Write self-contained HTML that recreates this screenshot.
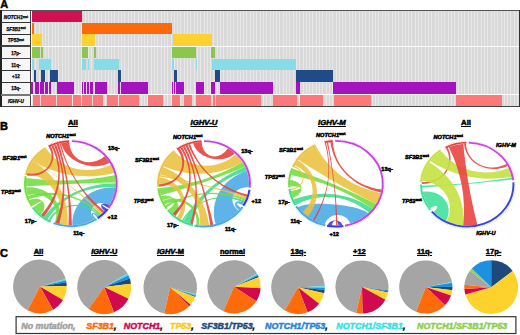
<!DOCTYPE html><html><head><meta charset="utf-8"><style>
html,body{margin:0;padding:0;background:#fff;width:520px;height:335px;overflow:hidden;position:relative}
body{font-family:"Liberation Sans",sans-serif}
.t{position:absolute;white-space:nowrap;line-height:1}
.s{-webkit-text-stroke:0.5px currentColor}
sup{font-size:62%;vertical-align:0;position:relative;top:-0.55em}
</style></head><body>
<div style="position:absolute;left:0.3px;top:-1.6px;font:bold 11px 'Liberation Sans', sans-serif;color:#000;-webkit-text-stroke:0.4px #000">A</div>
<div style="position:absolute;left:31.5px;top:11px;width:487.1px;height:95px;background:#d9d9d9;background-image:repeating-linear-gradient(90deg, rgba(255,255,255,0.4) 0px, rgba(255,255,255,0.4) 1px, transparent 1px, transparent 3.3px)"></div>
<div style="position:absolute;left:31.5px;top:11.1px;width:50.3px;height:11.299999999999999px;background:#d20f4f"></div>
<div style="position:absolute;left:31.5px;top:22.8px;width:2.1000000000000014px;height:11.2px;background:#fd6a0b"></div>
<div style="position:absolute;left:81.8px;top:22.8px;width:90.7px;height:11.2px;background:#fd6a0b"></div>
<div style="position:absolute;left:31.5px;top:34.2px;width:10.5px;height:11.399999999999999px;background:#fdd230"></div>
<div style="position:absolute;left:81.8px;top:34.2px;width:13.700000000000003px;height:11.399999999999999px;background:#fdd230"></div>
<div style="position:absolute;left:172.5px;top:34.2px;width:39.30000000000001px;height:11.399999999999999px;background:#fdd230"></div>
<div style="position:absolute;left:31.5px;top:46.6px;width:8.5px;height:11.699999999999996px;background:#8ac74a"></div>
<div style="position:absolute;left:41.2px;top:46.6px;width:1.5999999999999943px;height:11.699999999999996px;background:#8ac74a"></div>
<div style="position:absolute;left:82px;top:46.6px;width:5.799999999999997px;height:11.699999999999996px;background:#8ac74a"></div>
<div style="position:absolute;left:93.8px;top:46.6px;width:1.7999999999999972px;height:11.699999999999996px;background:#8ac74a"></div>
<div style="position:absolute;left:172px;top:46.6px;width:24.19999999999999px;height:11.699999999999996px;background:#8ac74a"></div>
<div style="position:absolute;left:211px;top:46.6px;width:4.300000000000011px;height:11.699999999999996px;background:#8ac74a"></div>
<div style="position:absolute;left:31.5px;top:58.5px;width:2.299999999999997px;height:11.5px;background:#86dde8"></div>
<div style="position:absolute;left:39.3px;top:58.5px;width:11.300000000000004px;height:11.5px;background:#86dde8"></div>
<div style="position:absolute;left:82px;top:58.5px;width:3.5px;height:11.5px;background:#86dde8"></div>
<div style="position:absolute;left:87.8px;top:58.5px;width:1.6000000000000085px;height:11.5px;background:#86dde8"></div>
<div style="position:absolute;left:93.8px;top:58.5px;width:24.799999999999997px;height:11.5px;background:#86dde8"></div>
<div style="position:absolute;left:171.5px;top:58.5px;width:2.0px;height:11.5px;background:#86dde8"></div>
<div style="position:absolute;left:195.8px;top:58.5px;width:1.6999999999999886px;height:11.5px;background:#86dde8"></div>
<div style="position:absolute;left:212px;top:58.5px;width:83.80000000000001px;height:11.5px;background:#86dde8"></div>
<div style="position:absolute;left:34.3px;top:70.2px;width:1.6000000000000014px;height:11.799999999999997px;background:#1f4b89"></div>
<div style="position:absolute;left:41.2px;top:70.2px;width:4.299999999999997px;height:11.799999999999997px;background:#1f4b89"></div>
<div style="position:absolute;left:50.2px;top:70.2px;width:7.399999999999999px;height:11.799999999999997px;background:#1f4b89"></div>
<div style="position:absolute;left:118.2px;top:70.2px;width:2.3999999999999915px;height:11.799999999999997px;background:#1f4b89"></div>
<div style="position:absolute;left:173.8px;top:70.2px;width:2.8999999999999773px;height:11.799999999999997px;background:#1f4b89"></div>
<div style="position:absolute;left:214.5px;top:70.2px;width:5.5px;height:11.799999999999997px;background:#1f4b89"></div>
<div style="position:absolute;left:295.8px;top:70.2px;width:37.5px;height:11.799999999999997px;background:#1f4b89"></div>
<div style="position:absolute;left:31.0px;top:82.2px;width:2.0px;height:11.599999999999994px;background:#a513be"></div>
<div style="position:absolute;left:35.4px;top:82.2px;width:3.8999999999999986px;height:11.599999999999994px;background:#a513be"></div>
<div style="position:absolute;left:39.9px;top:82.2px;width:4.200000000000003px;height:11.599999999999994px;background:#a513be"></div>
<div style="position:absolute;left:44.7px;top:82.2px;width:3.299999999999997px;height:11.599999999999994px;background:#a513be"></div>
<div style="position:absolute;left:48.6px;top:82.2px;width:2.6000000000000014px;height:11.599999999999994px;background:#a513be"></div>
<div style="position:absolute;left:57.1px;top:82.2px;width:16.499999999999993px;height:11.599999999999994px;background:#a513be"></div>
<div style="position:absolute;left:81.6px;top:82.2px;width:1.5px;height:11.599999999999994px;background:#a513be"></div>
<div style="position:absolute;left:83.7px;top:82.2px;width:2.5px;height:11.599999999999994px;background:#a513be"></div>
<div style="position:absolute;left:86.8px;top:82.2px;width:1.9000000000000057px;height:11.599999999999994px;background:#a513be"></div>
<div style="position:absolute;left:89.5px;top:82.2px;width:3.799999999999997px;height:11.599999999999994px;background:#a513be"></div>
<div style="position:absolute;left:95.3px;top:82.2px;width:12.200000000000003px;height:11.599999999999994px;background:#a513be"></div>
<div style="position:absolute;left:118.4px;top:82.2px;width:1.2999999999999972px;height:11.599999999999994px;background:#a513be"></div>
<div style="position:absolute;left:120.6px;top:82.2px;width:27.900000000000006px;height:11.599999999999994px;background:#a513be"></div>
<div style="position:absolute;left:172px;top:82.2px;width:1.1999999999999886px;height:11.599999999999994px;background:#a513be"></div>
<div style="position:absolute;left:173.8px;top:82.2px;width:1.3999999999999773px;height:11.599999999999994px;background:#a513be"></div>
<div style="position:absolute;left:176.2px;top:82.2px;width:8.300000000000011px;height:11.599999999999994px;background:#a513be"></div>
<div style="position:absolute;left:195.8px;top:82.2px;width:8.0px;height:11.599999999999994px;background:#a513be"></div>
<div style="position:absolute;left:211.3px;top:82.2px;width:3.6999999999999886px;height:11.599999999999994px;background:#a513be"></div>
<div style="position:absolute;left:220px;top:82.2px;width:53px;height:11.599999999999994px;background:#a513be"></div>
<div style="position:absolute;left:295.8px;top:82.2px;width:4.199999999999989px;height:11.599999999999994px;background:#a513be"></div>
<div style="position:absolute;left:333.3px;top:82.2px;width:122.5px;height:11.599999999999994px;background:#a513be"></div>
<div style="position:absolute;left:32.7px;top:95.0px;width:7.599999999999994px;height:10.900000000000006px;background:#fd7878"></div>
<div style="position:absolute;left:40.9px;top:95.0px;width:15.100000000000001px;height:10.900000000000006px;background:#fd7878"></div>
<div style="position:absolute;left:56.6px;top:95.0px;width:15.600000000000001px;height:10.900000000000006px;background:#fd7878"></div>
<div style="position:absolute;left:72.8px;top:95.0px;width:7.799999999999997px;height:10.900000000000006px;background:#fd7878"></div>
<div style="position:absolute;left:81.9px;top:95.0px;width:10.399999999999991px;height:10.900000000000006px;background:#fd7878"></div>
<div style="position:absolute;left:92.8px;top:95.0px;width:10.299999999999997px;height:10.900000000000006px;background:#fd7878"></div>
<div style="position:absolute;left:106.9px;top:95.0px;width:11.0px;height:10.900000000000006px;background:#fd7878"></div>
<div style="position:absolute;left:118.7px;top:95.0px;width:20.700000000000003px;height:10.900000000000006px;background:#fd7878"></div>
<div style="position:absolute;left:147.8px;top:95.0px;width:15.199999999999989px;height:10.900000000000006px;background:#fd7878"></div>
<div style="position:absolute;left:172px;top:95.0px;width:8px;height:10.900000000000006px;background:#fd7878"></div>
<div style="position:absolute;left:183.8px;top:95.0px;width:8.699999999999989px;height:10.900000000000006px;background:#fd7878"></div>
<div style="position:absolute;left:195.8px;top:95.0px;width:15.5px;height:10.900000000000006px;background:#fd7878"></div>
<div style="position:absolute;left:212.5px;top:95.0px;width:2.5px;height:10.900000000000006px;background:#fd7878"></div>
<div style="position:absolute;left:216.3px;top:95.0px;width:45.0px;height:10.900000000000006px;background:#fd7878"></div>
<div style="position:absolute;left:272.5px;top:95.0px;width:24.30000000000001px;height:10.900000000000006px;background:#fd7878"></div>
<div style="position:absolute;left:300px;top:95.0px;width:22.5px;height:10.900000000000006px;background:#fd7878"></div>
<div style="position:absolute;left:333.7px;top:95.0px;width:37.60000000000002px;height:10.900000000000006px;background:#fd7878"></div>
<div style="position:absolute;left:455.5px;top:95.0px;width:46.69999999999999px;height:10.900000000000006px;background:#fd7878"></div>
<div style="position:absolute;left:31.5px;top:45.6px;width:487.1px;height:1.1px;background:#fff"></div>
<div style="position:absolute;left:31.5px;top:93.9px;width:487.1px;height:1.1px;background:#fff"></div>
<div style="position:absolute;left:0.5px;top:10.2px;width:518.1px;height:1px;background:#555"></div>
<div style="position:absolute;left:0.5px;top:105.9px;width:518.1px;height:1.1px;background:#444"></div>
<div style="position:absolute;left:518.6px;top:10.2px;width:1.3px;height:96.8px;background:#333"></div>
<div style="position:absolute;left:0.4px;top:10.2px;width:1.2px;height:96.8px;background:#222"></div>
<div style="position:absolute;left:30.2px;top:10.2px;width:1.2px;height:96.8px;background:#444"></div>
<div style="position:absolute;left:1.6px;top:11.1px;width:28.6px;height:11.299999999999999px;background:#f6f6f6;font:bold 4.6px 'Liberation Sans', sans-serif;line-height:14.3px;text-align:center;color:#000;-webkit-text-stroke:0.25px #000"><i>NOTCH1</i><sup>mut</sup></div>
<div style="position:absolute;left:1.6px;top:22.8px;width:28.6px;height:11.2px;background:#f6f6f6;font:bold 4.6px 'Liberation Sans', sans-serif;line-height:14.2px;text-align:center;color:#000;-webkit-text-stroke:0.25px #000"><i>SF3B1</i><sup>mut</sup></div>
<div style="position:absolute;left:1.6px;top:34.2px;width:28.6px;height:11.399999999999999px;background:#f6f6f6;font:bold 4.6px 'Liberation Sans', sans-serif;line-height:14.4px;text-align:center;color:#000;-webkit-text-stroke:0.25px #000"><i>TP53</i><sup>mut</sup></div>
<div style="position:absolute;left:1.6px;top:46.6px;width:28.6px;height:11.699999999999996px;background:#f6f6f6;font:bold 4.6px 'Liberation Sans', sans-serif;line-height:14.7px;text-align:center;color:#000;-webkit-text-stroke:0.25px #000">17p-</div>
<div style="position:absolute;left:1.6px;top:58.5px;width:28.6px;height:11.5px;background:#f6f6f6;font:bold 4.6px 'Liberation Sans', sans-serif;line-height:14.5px;text-align:center;color:#000;-webkit-text-stroke:0.25px #000">11q-</div>
<div style="position:absolute;left:1.6px;top:70.2px;width:28.6px;height:11.799999999999997px;background:#f6f6f6;font:bold 4.6px 'Liberation Sans', sans-serif;line-height:14.8px;text-align:center;color:#000;-webkit-text-stroke:0.25px #000">+12</div>
<div style="position:absolute;left:1.6px;top:82.2px;width:28.6px;height:11.599999999999994px;background:#f6f6f6;font:bold 4.6px 'Liberation Sans', sans-serif;line-height:14.6px;text-align:center;color:#000;-webkit-text-stroke:0.25px #000">13q-</div>
<div style="position:absolute;left:1.6px;top:95.0px;width:28.6px;height:10.900000000000006px;background:#f6f6f6;font:bold 4.6px 'Liberation Sans', sans-serif;line-height:13.9px;text-align:center;color:#000;-webkit-text-stroke:0.25px #000"><i>IGHV-U</i></div>
<div style="position:absolute;left:0.5px;top:22.3px;width:30px;height:1.0px;background:#333"></div>
<div style="position:absolute;left:0.5px;top:33.7px;width:30px;height:0.9px;background:#333"></div>
<div style="position:absolute;left:0.5px;top:45.2px;width:30px;height:1.4px;background:#444"></div>
<div style="position:absolute;left:0.5px;top:58.1px;width:30px;height:1.3px;background:#444"></div>
<div style="position:absolute;left:0.5px;top:69.7px;width:30px;height:1.0px;background:#333"></div>
<div style="position:absolute;left:0.5px;top:81.9px;width:30px;height:1.0px;background:#333"></div>
<div style="position:absolute;left:0.5px;top:93.7px;width:30px;height:1.9px;background:#777"></div>
<svg style="position:absolute;left:0;top:0" width="520" height="335">
<path d="M93.30,219.81A45.0,41.7 0 0 1 72.37,225.37C71.52,202.93 91.47,185.54 115.59,187.70A45.0,41.7 0 0 1 109.37,205.18C97.30,198.46 86.26,208.51 93.30,219.81Z" fill="#48a8e6" fill-opacity="0.88"/>
<path d="M95.31,218.67A45.0,41.7 0 0 1 93.30,219.81C88.85,212.67 93.02,210.06 98.50,216.56A45.0,41.7 0 0 1 97.25,217.44C92.80,211.76 91.19,212.79 95.31,218.67Z" fill="#48a8e6" fill-opacity="0.88"/>
<path d="M106.74,208.80A45.0,41.7 0 0 1 104.76,211.06C97.97,205.59 101.66,200.88 109.37,205.18A45.0,41.7 0 0 1 107.66,207.62C100.29,202.83 99.55,203.78 106.74,208.80Z" fill="#3b38d6" fill-opacity="0.88"/>
<path d="M47.62,219.44A45.0,41.7 0 0 1 43.72,217.00C61.41,195.25 86.40,183.57 115.80,183.34A45.0,41.7 0 0 1 115.59,187.70C87.40,185.18 62.21,196.95 47.62,219.44Z" fill="#3ddc8a" fill-opacity="0.88"/>
<path d="M50.37,220.85A45.0,41.7 0 0 1 48.30,219.81C59.47,201.88 85.52,199.67 100.03,215.41A45.0,41.7 0 0 1 98.50,216.56C85.33,200.94 60.08,203.19 50.37,220.85Z" fill="#3ddc8a" fill-opacity="0.88"/>
<path d="M25.91,186.61A45.0,41.7 0 0 1 26.24,177.90C57.13,181.92 84.31,181.09 114.85,175.17A45.0,41.7 0 0 1 115.78,182.54C84.30,183.35 57.33,184.57 25.91,186.61Z" fill="#72dd3e" fill-opacity="0.88"/>
<path d="M29.08,199.32A45.0,41.7 0 0 1 27.77,195.89C54.90,188.21 82.14,194.97 101.49,214.20A45.0,41.7 0 0 1 100.03,215.41C82.10,195.96 54.66,189.74 29.08,199.32Z" fill="#72dd3e" fill-opacity="0.88"/>
<path d="M27.54,195.19A45.0,41.7 0 0 1 25.97,187.33C48.31,185.52 65.34,204.00 59.91,224.16A45.0,41.7 0 0 1 54.67,222.63C61.55,206.04 45.98,190.30 27.54,195.19Z" fill="#72dd3e" fill-opacity="0.88"/>
<path d="M32.64,205.80A45.0,41.7 0 0 1 29.38,199.99C41.80,195.11 49.72,205.39 40.69,214.69A45.0,41.7 0 0 1 33.49,207.02C44.69,200.02 44.09,199.17 32.64,205.80Z" fill="#72dd3e" fill-opacity="0.88"/>
<path d="M33.06,160.99A45.0,41.7 0 0 1 46.29,148.73C60.51,169.02 87.63,175.75 110.90,164.77A45.0,41.7 0 0 1 114.27,172.91C85.54,180.04 58.00,176.00 33.06,160.99Z" fill="#e9c23c" fill-opacity="0.88"/>
<path d="M32.85,161.29A45.0,41.7 0 0 1 33.19,160.81C59.44,176.78 80.50,192.53 102.90,212.93A45.0,41.7 0 0 1 101.49,214.20C80.12,192.96 59.28,176.90 32.85,161.29Z" fill="#e9c23c" fill-opacity="0.88"/>
<path d="M27.44,172.56A45.0,41.7 0 0 1 32.85,161.29C56.98,175.54 69.66,198.85 67.66,225.30A45.0,41.7 0 0 1 59.91,224.16C66.09,201.22 52.03,178.88 27.44,172.56Z" fill="#e9c23c" fill-opacity="0.88"/>
<path d="M61.06,142.99A45.0,41.7 0 0 1 69.23,142.03C69.94,160.78 89.48,168.65 104.76,156.34A45.0,41.7 0 0 1 109.77,162.85C92.23,172.23 65.44,161.31 61.06,142.99Z" fill="#e63f3a" fill-opacity="0.88"/>
<path d="M48.98,147.23A45.0,41.7 0 0 1 50.93,146.28C59.34,162.12 45.36,178.90 26.70,175.39A45.0,41.7 0 0 1 27.33,172.91C44.51,177.17 57.61,161.64 48.98,147.23Z" fill="#e63f3a" fill-opacity="0.88"/>
<path d="M51.36,146.09A45.0,41.7 0 0 1 53.51,145.20C64.57,169.83 61.04,195.70 43.72,217.00A45.0,41.7 0 0 1 40.98,214.93C59.58,195.46 63.48,169.54 51.36,146.09Z" fill="#e63f3a" fill-opacity="0.88"/>
<path d="M53.94,145.04A45.0,41.7 0 0 1 56.15,144.27C66.12,171.10 67.08,196.57 59.15,223.98A45.0,41.7 0 0 1 55.78,223.01C65.85,196.64 65.25,170.97 53.94,145.04Z" fill="#e63f3a" fill-opacity="0.88"/>
<path d="M56.60,144.13A45.0,41.7 0 0 1 58.85,143.50C67.18,171.51 71.16,196.34 71.98,225.39A45.0,41.7 0 0 1 68.44,225.34C70.08,196.52 66.43,171.52 56.60,144.13Z" fill="#e63f3a" fill-opacity="0.88"/>
<path d="M59.30,143.38A45.0,41.7 0 0 1 60.68,143.07C67.55,170.64 81.63,192.58 104.50,211.33A45.0,41.7 0 0 1 102.90,212.93C80.94,192.94 67.17,170.96 59.30,143.38Z" fill="#e63f3a" fill-opacity="0.88"/>
<path d="M47.77,145.04A47.5,44.2 0 0 1 69.14,139.53" fill="none" stroke="#e63f3a" stroke-opacity="0.25" stroke-width="1.2" stroke-dasharray="0.8 0.9"/><path d="M48.55,146.44A45.9,42.6 0 0 1 69.20,141.13" fill="none" stroke="#e63f3a" stroke-width="1.9"/>
<path d="M71.96,139.51A47.5,44.2 0 0 1 109.71,209.05" fill="none" stroke="#c842e0" stroke-opacity="0.25" stroke-width="1.2" stroke-dasharray="0.8 0.9"/><path d="M71.92,141.11A45.9,42.6 0 0 1 108.40,208.13" fill="none" stroke="#c842e0" stroke-width="1.9"/>
<path d="M108.98,209.99A47.5,44.2 0 0 1 98.59,219.55" fill="none" stroke="#3b38d6" stroke-opacity="0.25" stroke-width="1.2" stroke-dasharray="0.8 0.9"/><path d="M107.70,209.04A45.9,42.6 0 0 1 97.65,218.25" fill="none" stroke="#3b38d6" stroke-width="1.9"/>
<path d="M97.36,220.34A47.5,44.2 0 0 1 53.01,224.68" fill="none" stroke="#48a8e6" stroke-opacity="0.25" stroke-width="1.2" stroke-dasharray="0.8 0.9"/><path d="M96.47,219.02A45.9,42.6 0 0 1 53.61,223.20" fill="none" stroke="#48a8e6" stroke-width="1.9"/>
<path d="M49.98,223.43A47.5,44.2 0 0 1 31.42,208.42" fill="none" stroke="#3ddc8a" stroke-opacity="0.25" stroke-width="1.2" stroke-dasharray="0.8 0.9"/><path d="M50.68,221.99A45.9,42.6 0 0 1 32.75,207.52" fill="none" stroke="#3ddc8a" stroke-width="1.9"/>
<path d="M30.52,207.12A47.5,44.2 0 0 1 24.02,176.02" fill="none" stroke="#72dd3e" stroke-opacity="0.25" stroke-width="1.2" stroke-dasharray="0.8 0.9"/><path d="M31.87,206.27A45.9,42.6 0 0 1 25.60,176.30" fill="none" stroke="#72dd3e" stroke-width="1.9"/>
<path d="M24.34,174.51A47.5,44.2 0 0 1 44.93,146.63" fill="none" stroke="#e9c23c" stroke-opacity="0.25" stroke-width="1.2" stroke-dasharray="0.8 0.9"/><path d="M25.90,174.84A45.9,42.6 0 0 1 45.80,147.97" fill="none" stroke="#e9c23c" stroke-width="1.9"/>
<path d="M238.47,210.67A45.0,41.8 0 0 1 215.65,224.18C208.99,201.10 222.34,178.27 246.80,170.88A45.0,41.8 0 0 1 248.83,187.44C233.45,186.19 226.64,201.45 238.47,210.67Z" fill="#48a8e6" fill-opacity="0.88"/>
<path d="M240.86,207.78A45.0,41.8 0 0 1 238.97,210.11C231.25,204.29 235.24,198.59 244.10,202.78A45.0,41.8 0 0 1 242.57,205.33C235.85,201.58 234.44,203.60 240.86,207.78Z" fill="#48a8e6" fill-opacity="0.88"/>
<path d="M190.09,223.55A45.0,41.8 0 0 1 183.57,221.04C197.34,195.93 217.39,178.26 245.11,166.80A45.0,41.8 0 0 1 246.80,170.88C218.96,179.29 199.14,197.69 190.09,223.55Z" fill="#3ddc8a" fill-opacity="0.88"/>
<path d="M183.22,220.88A45.0,41.8 0 0 1 181.84,220.18C194.67,199.12 221.32,190.96 245.11,200.80A45.0,41.8 0 0 1 244.10,202.78C221.48,192.07 194.94,199.96 183.22,220.88Z" fill="#3ddc8a" fill-opacity="0.88"/>
<path d="M160.74,195.32A45.0,41.8 0 0 1 159.25,188.17C190.10,185.16 215.98,177.11 242.57,162.27A45.0,41.8 0 0 1 245.11,166.80C216.38,178.68 190.98,187.27 160.74,195.32Z" fill="#72dd3e" fill-opacity="0.88"/>
<path d="M166.69,207.17A45.0,41.8 0 0 1 165.43,205.33C190.66,191.25 218.53,188.98 246.01,198.78A45.0,41.8 0 0 1 245.11,200.80C218.68,189.87 190.68,192.15 166.69,207.17Z" fill="#72dd3e" fill-opacity="0.88"/>
<path d="M165.03,204.70A45.0,41.8 0 0 1 162.89,200.80C181.62,193.06 201.44,206.43 199.30,225.37A45.0,41.8 0 0 1 196.19,224.96C199.41,207.96 181.13,196.07 165.03,204.70Z" fill="#72dd3e" fill-opacity="0.88"/>
<path d="M175.68,216.28A45.0,41.8 0 0 1 168.54,209.53C179.18,201.81 175.00,195.23 162.58,200.13A45.0,41.8 0 0 1 160.97,196.02C173.88,192.35 184.18,206.54 175.68,216.28Z" fill="#72dd3e" fill-opacity="0.88"/>
<path d="M163.22,166.13A45.0,41.8 0 0 1 175.07,151.78C190.89,169.29 218.42,170.40 235.82,154.24A45.0,41.8 0 0 1 242.57,162.27C217.63,176.20 189.59,177.56 163.22,166.13Z" fill="#e9c23c" fill-opacity="0.88"/>
<path d="M159.68,176.54A45.0,41.8 0 0 1 159.98,175.11C190.77,181.19 216.87,187.68 246.80,196.72A45.0,41.8 0 0 1 246.01,198.78C216.69,188.32 190.61,181.61 159.68,176.54Z" fill="#e9c23c" fill-opacity="0.88"/>
<path d="M160.15,174.40A45.0,41.8 0 0 1 162.89,166.80C189.20,177.68 205.83,198.76 209.09,225.33A45.0,41.8 0 0 1 199.69,225.41C202.21,201.09 185.78,179.89 160.15,174.40Z" fill="#e9c23c" fill-opacity="0.88"/>
<path d="M159.00,183.80A45.0,41.8 0 0 1 159.55,177.26C181.20,180.45 192.11,202.18 180.82,219.63A45.0,41.8 0 0 1 176.92,217.18C188.46,202.95 178.18,183.80 159.00,183.80Z" fill="#e9c23c" fill-opacity="0.88"/>
<path d="M193.11,143.24A45.0,41.8 0 0 1 201.64,142.06C202.54,157.92 218.78,161.82 227.85,148.35A45.0,41.8 0 0 1 234.69,153.23C223.03,164.85 197.25,158.65 193.11,143.24Z" fill="#e63f3a" fill-opacity="0.88"/>
<path d="M177.55,149.98A45.0,41.8 0 0 1 179.82,148.55C190.98,164.82 179.83,185.37 159.11,186.72A45.0,41.8 0 0 1 159.00,184.16C178.47,184.01 188.99,164.61 177.55,149.98Z" fill="#e63f3a" fill-opacity="0.88"/>
<path d="M180.29,148.27A45.0,41.8 0 0 1 182.32,147.17C195.75,169.87 193.00,195.98 175.07,215.82A45.0,41.8 0 0 1 172.74,213.87C191.57,195.75 194.57,169.68 180.29,148.27Z" fill="#e63f3a" fill-opacity="0.88"/>
<path d="M182.87,146.89A45.0,41.8 0 0 1 184.98,145.92C197.79,171.43 200.32,197.01 192.73,224.27A45.0,41.8 0 0 1 190.09,223.55C199.33,197.15 196.90,171.40 182.87,146.89Z" fill="#e63f3a" fill-opacity="0.88"/>
<path d="M185.48,145.70A45.0,41.8 0 0 1 187.65,144.86C199.07,172.06 206.82,196.13 213.36,224.69A45.0,41.8 0 0 1 210.26,225.19C205.91,196.40 198.36,172.20 185.48,145.70Z" fill="#e63f3a" fill-opacity="0.88"/>
<path d="M188.17,144.67A45.0,41.8 0 0 1 190.09,144.05C199.06,169.68 219.44,187.64 247.47,194.62A45.0,41.8 0 0 1 246.80,196.72C218.76,188.25 198.54,170.31 188.17,144.67Z" fill="#e63f3a" fill-opacity="0.88"/>
<path d="M176.08,147.96A47.5,44.3 0 0 1 201.51,139.56" fill="none" stroke="#e63f3a" stroke-opacity="0.25" stroke-width="1.2" stroke-dasharray="0.8 0.9"/><path d="M177.02,149.25A45.9,42.699999999999996 0 0 1 201.60,141.16" fill="none" stroke="#e63f3a" stroke-width="1.9"/>
<path d="M204.00,139.50A47.5,44.3 0 0 1 251.32,187.66" fill="none" stroke="#c842e0" stroke-opacity="0.25" stroke-width="1.2" stroke-dasharray="0.8 0.9"/><path d="M204.00,141.10A45.9,42.699999999999996 0 0 1 249.73,187.52" fill="none" stroke="#c842e0" stroke-width="1.9"/>
<path d="M251.04,189.97A47.5,44.3 0 0 1 244.72,206.62" fill="none" stroke="#3b38d6" stroke-opacity="0.25" stroke-width="1.2" stroke-dasharray="0.8 0.9"/><path d="M249.45,189.74A45.9,42.699999999999996 0 0 1 243.34,205.79" fill="none" stroke="#3b38d6" stroke-width="1.9"/>
<path d="M243.84,207.93A47.5,44.3 0 0 1 194.12,227.13" fill="none" stroke="#48a8e6" stroke-opacity="0.25" stroke-width="1.2" stroke-dasharray="0.8 0.9"/><path d="M242.49,207.06A45.9,42.699999999999996 0 0 1 194.46,225.57" fill="none" stroke="#48a8e6" stroke-width="1.9"/>
<path d="M192.51,226.78A47.5,44.3 0 0 1 166.57,211.07" fill="none" stroke="#3ddc8a" stroke-opacity="0.25" stroke-width="1.2" stroke-dasharray="0.8 0.9"/><path d="M192.90,225.23A45.9,42.699999999999996 0 0 1 167.83,210.09" fill="none" stroke="#3ddc8a" stroke-width="1.9"/>
<path d="M165.57,209.84A47.5,44.3 0 0 1 156.76,188.43" fill="none" stroke="#72dd3e" stroke-opacity="0.25" stroke-width="1.2" stroke-dasharray="0.8 0.9"/><path d="M166.87,208.90A45.9,42.699999999999996 0 0 1 158.35,188.26" fill="none" stroke="#72dd3e" stroke-width="1.9"/>
<path d="M156.62,186.89A47.5,44.3 0 0 1 173.47,149.86" fill="none" stroke="#e9c23c" stroke-opacity="0.25" stroke-width="1.2" stroke-dasharray="0.8 0.9"/><path d="M158.21,186.78A45.9,42.699999999999996 0 0 1 174.50,151.09" fill="none" stroke="#e9c23c" stroke-width="1.9"/>
<path d="M324.87,224.36A46.0,41.9 0 0 1 297.86,207.13C309.30,200.10 358.77,204.44 368.53,213.33A46.0,41.9 0 0 1 350.21,223.55C345.95,211.59 328.21,212.16 324.87,224.36Z" fill="#48a8e6" fill-opacity="0.88"/>
<path d="M342.40,225.19A46.0,41.9 0 0 1 338.41,225.54C338.05,219.27 332.59,219.18 331.99,225.44A46.0,41.9 0 0 1 328.01,224.96C329.21,218.77 341.44,218.97 342.40,225.19Z" fill="#3b38d6" fill-opacity="0.88"/>
<path d="M296.16,204.65A46.0,41.9 0 0 1 293.35,199.40C320.68,189.34 349.19,192.75 372.74,208.92A46.0,41.9 0 0 1 369.09,212.81C349.00,195.14 320.35,191.93 296.16,204.65Z" fill="#3ddc8a" fill-opacity="0.88"/>
<path d="M291.01,174.99A46.0,41.9 0 0 1 293.06,168.68C323.07,179.18 348.11,189.82 376.23,204.01A46.0,41.9 0 0 1 372.74,208.92C347.41,191.53 322.02,180.99 291.01,174.99Z" fill="#72dd3e" fill-opacity="0.88"/>
<path d="M290.11,186.62A46.0,41.9 0 0 1 290.18,180.05C303.92,181.14 305.74,193.73 292.77,198.03A46.0,41.9 0 0 1 290.70,190.98C304.29,188.79 303.88,185.75 290.11,186.62Z" fill="#72dd3e" fill-opacity="0.88"/>
<path d="M298.32,159.67A46.0,41.9 0 0 1 315.83,146.04C329.06,170.74 351.43,186.94 380.82,193.13A46.0,41.9 0 0 1 376.23,204.01C348.09,189.81 324.67,176.48 298.32,159.67Z" fill="#e9c23c" fill-opacity="0.88"/>
<path d="M294.66,165.33A46.0,41.9 0 0 1 297.86,160.27C318.84,173.16 323.26,198.56 307.68,216.72A46.0,41.9 0 0 1 302.36,212.28C318.87,198.25 314.95,174.35 294.66,165.33Z" fill="#e9c23c" fill-opacity="0.88"/>
<path d="M293.66,167.33A46.0,41.9 0 0 1 294.31,165.99C308.41,171.98 305.93,188.04 290.57,190.25A46.0,41.9 0 0 1 290.39,189.17C305.01,187.42 307.23,172.58 293.66,167.33Z" fill="#e9c23c" fill-opacity="0.88"/>
<path d="M330.39,142.11A46.0,41.9 0 0 1 332.79,141.90C334.71,166.84 354.37,186.05 381.55,189.53A46.0,41.9 0 0 1 380.99,192.41C353.35,187.06 333.84,167.66 330.39,142.11Z" fill="#e63f3a" fill-opacity="0.88"/>
<path d="M324.87,143.04A46.0,41.9 0 0 1 326.04,142.79C332.74,170.29 328.92,195.83 314.40,220.70A46.0,41.9 0 0 1 313.00,219.99C328.34,195.78 332.30,170.17 324.87,143.04Z" fill="#e63f3a" fill-opacity="0.88"/>
<path d="M326.83,142.64A46.0,41.9 0 0 1 328.01,142.44C333.59,171.28 336.48,196.31 337.61,225.57A46.0,41.9 0 0 1 336.00,225.60C336.00,196.36 333.23,171.29 326.83,142.64Z" fill="#e63f3a" fill-opacity="0.88"/>
<path d="M324.27,140.62A48.5,44.4 0 0 1 332.62,139.41" fill="none" stroke="#e63f3a" stroke-opacity="0.25" stroke-width="1.2" stroke-dasharray="0.8 0.9"/><path d="M324.65,142.17A46.9,42.8 0 0 1 332.73,141.00" fill="none" stroke="#e63f3a" stroke-width="1.9"/>
<path d="M335.15,139.31A48.5,44.4 0 0 1 345.25,227.28" fill="none" stroke="#c842e0" stroke-opacity="0.25" stroke-width="1.2" stroke-dasharray="0.8 0.9"/><path d="M335.18,140.91A46.9,42.8 0 0 1 344.95,225.71" fill="none" stroke="#c842e0" stroke-width="1.9"/>
<path d="M343.59,227.55A48.5,44.4 0 0 1 326.75,227.28" fill="none" stroke="#3b38d6" stroke-opacity="0.25" stroke-width="1.2" stroke-dasharray="0.8 0.9"/><path d="M343.34,225.97A46.9,42.8 0 0 1 327.05,225.71" fill="none" stroke="#3b38d6" stroke-width="1.9"/>
<path d="M325.09,226.96A48.5,44.4 0 0 1 294.87,207.23" fill="none" stroke="#48a8e6" stroke-opacity="0.25" stroke-width="1.2" stroke-dasharray="0.8 0.9"/><path d="M325.45,225.40A46.9,42.8 0 0 1 296.23,206.38" fill="none" stroke="#48a8e6" stroke-width="1.9"/>
<path d="M294.00,205.90A48.5,44.4 0 0 1 287.86,189.11" fill="none" stroke="#3ddc8a" stroke-opacity="0.25" stroke-width="1.2" stroke-dasharray="0.8 0.9"/><path d="M295.38,205.10A46.9,42.8 0 0 1 289.45,188.92" fill="none" stroke="#3ddc8a" stroke-width="1.9"/>
<path d="M287.68,187.57A48.5,44.4 0 0 1 290.72,167.79" fill="none" stroke="#72dd3e" stroke-opacity="0.25" stroke-width="1.2" stroke-dasharray="0.8 0.9"/><path d="M289.28,187.43A46.9,42.8 0 0 1 292.22,168.36" fill="none" stroke="#72dd3e" stroke-width="1.9"/>
<path d="M291.36,166.35A48.5,44.4 0 0 1 314.74,143.79" fill="none" stroke="#e9c23c" stroke-opacity="0.25" stroke-width="1.2" stroke-dasharray="0.8 0.9"/><path d="M292.83,166.98A46.9,42.8 0 0 1 315.44,145.23" fill="none" stroke="#e9c23c" stroke-width="1.9"/>
<path d="M445.93,148.31A45.3,41.1 0 0 1 447.70,147.50C456.86,164.92 443.18,184.22 421.91,183.88A45.3,41.1 0 0 1 421.98,182.09C442.30,183.22 455.49,164.62 445.93,148.31Z" fill="#e8413d" fill-opacity="0.88"/>
<path d="M422.01,187.47A45.3,41.1 0 0 1 421.92,185.68C453.57,184.92 480.65,182.56 511.88,177.82A45.3,41.1 0 0 1 512.16,179.59C480.70,183.10 453.64,185.46 422.01,187.47Z" fill="#3ee09c" fill-opacity="0.88"/>
<path d="M430.09,208.17A45.3,41.1 0 0 1 422.59,191.74C441.41,188.73 454.91,205.58 445.93,220.89A45.3,41.1 0 0 1 433.54,212.10C440.00,206.82 437.22,203.65 430.09,208.17Z" fill="#3ee09c" fill-opacity="0.88"/>
<path d="M430.09,161.03A45.3,41.1 0 0 1 441.22,150.93C456.65,170.93 484.00,177.81 508.58,167.88A45.3,41.1 0 0 1 511.67,176.76C482.14,181.97 454.73,176.68 430.09,161.03Z" fill="#c4e03c" fill-opacity="0.88"/>
<path d="M422.07,181.02A45.3,41.1 0 0 1 429.21,162.22C453.32,176.42 465.76,199.55 463.25,225.54A45.3,41.1 0 0 1 446.63,221.22C456.65,203.38 444.05,182.76 422.07,181.02Z" fill="#c4e03c" fill-opacity="0.88"/>
<path d="M448.77,147.05A45.3,41.1 0 0 1 463.25,143.66C466.01,172.27 470.27,196.66 477.39,224.65A45.3,41.1 0 0 1 463.25,225.54C465.96,197.47 461.41,172.80 448.77,147.05Z" fill="#e8413c" fill-opacity="0.88"/>
<path d="M464.04,143.60A45.3,41.1 0 0 1 466.01,143.51C466.56,162.48 488.32,173.54 506.43,164.05A45.3,41.1 0 0 1 507.56,165.94C488.06,174.96 465.57,163.41 464.04,143.60Z" fill="#e8413c" fill-opacity="0.88"/>
<path d="M444.76,146.10A47.8,43.6 0 0 1 466.37,141.01" fill="none" stroke="#e8413c" stroke-opacity="0.25" stroke-width="1.2" stroke-dasharray="0.8 0.9"/><path d="M445.51,147.52A46.199999999999996,42.0 0 0 1 466.39,142.61" fill="none" stroke="#e8413c" stroke-width="1.9"/>
<path d="M468.87,141.03A47.8,43.6 0 0 1 514.74,180.04" fill="none" stroke="#cf44e2" stroke-opacity="0.25" stroke-width="1.2" stroke-dasharray="0.8 0.9"/><path d="M468.81,142.63A46.199999999999996,42.0 0 0 1 513.15,180.21" fill="none" stroke="#cf44e2" stroke-width="1.9"/>
<path d="M514.93,182.32A47.8,43.6 0 0 1 430.58,212.63" fill="none" stroke="#3346db" stroke-opacity="0.25" stroke-width="1.2" stroke-dasharray="0.8 0.9"/><path d="M513.34,182.40A46.199999999999996,42.0 0 0 1 431.81,211.60" fill="none" stroke="#3346db" stroke-width="1.9"/>
<path d="M429.03,210.84A47.8,43.6 0 0 1 419.40,184.60" fill="none" stroke="#3ee09c" stroke-opacity="0.25" stroke-width="1.2" stroke-dasharray="0.8 0.9"/><path d="M430.30,209.88A46.199999999999996,42.0 0 0 1 421.00,184.60" fill="none" stroke="#3ee09c" stroke-width="1.9"/>
<path d="M419.47,182.32A47.8,43.6 0 0 1 439.78,148.88" fill="none" stroke="#c4e03c" stroke-opacity="0.25" stroke-width="1.2" stroke-dasharray="0.8 0.9"/><path d="M421.06,182.40A46.199999999999996,42.0 0 0 1 440.70,150.20" fill="none" stroke="#c4e03c" stroke-width="1.9"/>
<path d="M39.9,286.4L27.53,310.17A26.8,26.8 0 1 1 65.64,278.92Z" fill="#a5a5a5"/>
<path d="M39.9,286.4L65.64,278.92A26.8,26.8 0 0 1 66.01,280.37Z" fill="#3ee6ea"/>
<path d="M39.9,286.4L66.01,280.37A26.8,26.8 0 0 1 66.37,282.21Z" fill="#1e90e0"/>
<path d="M39.9,286.4L66.37,282.21A26.8,26.8 0 0 1 66.70,285.93Z" fill="#1f497d"/>
<path d="M39.9,286.4L66.70,285.93A26.8,26.8 0 0 1 62.97,300.04Z" fill="#fed22c"/>
<path d="M39.9,286.4L62.97,300.04A26.8,26.8 0 0 1 53.10,309.73Z" fill="#d10a4e"/>
<path d="M39.9,286.4L53.10,309.73A26.8,26.8 0 0 1 27.53,310.17Z" fill="#fd6b0a"/>
<path d="M104.2,287.0L88.71,309.12A27.0,27.0 0 1 1 127.58,273.50Z" fill="#a5a5a5"/>
<path d="M104.2,287.0L127.58,273.50A27.0,27.0 0 0 1 128.47,275.16Z" fill="#3ee6ea"/>
<path d="M104.2,287.0L128.47,275.16A27.0,27.0 0 0 1 129.82,278.48Z" fill="#1e90e0"/>
<path d="M104.2,287.0L129.82,278.48A27.0,27.0 0 0 1 131.02,283.85Z" fill="#1f497d"/>
<path d="M104.2,287.0L131.02,283.85A27.0,27.0 0 0 1 128.47,298.84Z" fill="#fed22c"/>
<path d="M104.2,287.0L128.47,298.84A27.0,27.0 0 0 1 113.88,312.21Z" fill="#d10a4e"/>
<path d="M104.2,287.0L113.88,312.21A27.0,27.0 0 0 1 88.71,309.12Z" fill="#fd6b0a"/>
<path d="M170.2,287.4L164.17,313.51A26.8,26.8 0 1 1 196.09,294.34Z" fill="#a5a5a5"/>
<path d="M170.2,287.4L196.09,294.34A26.8,26.8 0 0 1 195.83,295.24Z" fill="#3ee6ea"/>
<path d="M170.2,287.4L195.83,295.24A26.8,26.8 0 0 1 195.54,296.13Z" fill="#1e90e0"/>
<path d="M170.2,287.4L195.54,296.13A26.8,26.8 0 0 1 195.22,297.00Z" fill="#1f497d"/>
<path d="M170.2,287.4L195.22,297.00A26.8,26.8 0 0 1 190.58,304.81Z" fill="#fed22c"/>
<path d="M170.2,287.4L190.58,304.81A26.8,26.8 0 0 1 189.15,306.35Z" fill="#d10a4e"/>
<path d="M170.2,287.4L189.15,306.35A26.8,26.8 0 0 1 164.17,313.51Z" fill="#fd6b0a"/>
<path d="M234.0,286.8L223.35,311.18A26.6,26.6 0 1 1 256.90,273.26Z" fill="#a5a5a5"/>
<path d="M234.0,286.8L256.90,273.26A26.6,26.6 0 0 1 257.70,274.72Z" fill="#3ee6ea"/>
<path d="M234.0,286.8L257.70,274.72A26.6,26.6 0 0 1 258.15,275.64Z" fill="#1e90e0"/>
<path d="M234.0,286.8L258.15,275.64A26.6,26.6 0 0 1 258.78,277.14Z" fill="#1f497d"/>
<path d="M234.0,286.8L258.78,277.14A26.6,26.6 0 0 1 260.56,288.19Z" fill="#fed22c"/>
<path d="M234.0,286.8L260.56,288.19A26.6,26.6 0 0 1 256.31,301.29Z" fill="#d10a4e"/>
<path d="M234.0,286.8L256.31,301.29A26.6,26.6 0 0 1 223.35,311.18Z" fill="#fd6b0a"/>
<path d="M298.0,287.2L284.80,310.53A26.8,26.8 0 1 1 324.78,286.26Z" fill="#a5a5a5"/>
<path d="M298.0,287.2L324.78,286.26A26.8,26.8 0 0 1 324.80,287.67Z" fill="#3ee6ea"/>
<path d="M298.0,287.2L324.80,287.67A26.8,26.8 0 0 1 324.65,290.00Z" fill="#1e90e0"/>
<path d="M298.0,287.2L324.65,290.00A26.8,26.8 0 0 1 324.11,293.23Z" fill="#1f497d"/>
<path d="M298.0,287.2L324.11,293.23A26.8,26.8 0 0 1 319.12,303.70Z" fill="#fed22c"/>
<path d="M298.0,287.2L319.12,303.70A26.8,26.8 0 0 1 307.60,312.22Z" fill="#d10a4e"/>
<path d="M298.0,287.2L307.60,312.22A26.8,26.8 0 0 1 284.80,310.53Z" fill="#fd6b0a"/>
<path d="M362.0,287.0L356.20,312.96A26.6,26.6 0 1 1 388.40,290.24Z" fill="#a5a5a5"/>
<path d="M362.0,287.0L388.40,290.24A26.6,26.6 0 0 1 388.20,291.62Z" fill="#1e90e0"/>
<path d="M362.0,287.0L388.20,291.62A26.6,26.6 0 0 1 388.02,292.53Z" fill="#1f497d"/>
<path d="M362.0,287.0L388.02,292.53A26.6,26.6 0 0 1 385.38,299.69Z" fill="#fed22c"/>
<path d="M362.0,287.0L385.38,299.69A26.6,26.6 0 0 1 362.46,313.60Z" fill="#d10a4e"/>
<path d="M362.0,287.0L362.46,313.60A26.6,26.6 0 0 1 356.20,312.96Z" fill="#fd6b0a"/>
<path d="M425.8,287.0L416.05,311.75A26.6,26.6 0 1 1 451.91,281.92Z" fill="#a5a5a5"/>
<path d="M425.8,287.0L451.91,281.92A26.6,26.6 0 0 1 452.07,282.84Z" fill="#3ee6ea"/>
<path d="M425.8,287.0L452.07,282.84A26.6,26.6 0 0 1 452.40,287.00Z" fill="#1e90e0"/>
<path d="M425.8,287.0L452.40,287.00A26.6,26.6 0 0 1 452.19,290.33Z" fill="#1f497d"/>
<path d="M425.8,287.0L452.19,290.33A26.6,26.6 0 0 1 451.04,295.40Z" fill="#fed22c"/>
<path d="M425.8,287.0L451.04,295.40A26.6,26.6 0 0 1 445.09,305.31Z" fill="#d10a4e"/>
<path d="M425.8,287.0L445.09,305.31A26.6,26.6 0 0 1 416.05,311.75Z" fill="#fd6b0a"/>
<path d="M491.2,287.2L491.20,260.30A26.9,26.9 0 0 1 512.68,271.01Z" fill="#1f497d"/>
<path d="M491.2,287.2L512.68,271.01A26.9,26.9 0 1 1 465.34,294.61Z" fill="#fed22c"/>
<path d="M491.2,287.2L465.34,294.61A26.9,26.9 0 0 1 464.37,289.08Z" fill="#d10a4e"/>
<path d="M491.2,287.2L464.37,289.08A26.9,26.9 0 0 1 464.40,284.86Z" fill="#fd6b0a"/>
<path d="M491.2,287.2L464.40,284.86A26.9,26.9 0 0 1 469.92,270.75Z" fill="#a5a5a5"/>
<path d="M491.2,287.2L469.92,270.75A26.9,26.9 0 0 1 471.85,268.51Z" fill="#92d050"/>
<path d="M491.2,287.2L471.85,268.51A26.9,26.9 0 0 1 491.20,260.30Z" fill="#1e90e0"/>
<rect x="16.1" y="316.7" width="499.8" height="16.8" fill="none" stroke="#333" stroke-width="1.2"/>
</svg>
<div class="t s" style="left:0.0px;top:119.8px;font:bold 11px 'Liberation Sans', sans-serif;color:#000;">B</div>
<div class="t s" style="left:0.0px;top:246.9px;font:bold 11px 'Liberation Sans', sans-serif;color:#000;">C</div>
<div class="t s" style="left:67.9px;top:118.4px;font:bold 7.8px 'Liberation Sans', sans-serif;color:#000;"><u>All</u></div>
<div class="t s" style="left:190.5px;top:118.4px;font:bold 7.8px 'Liberation Sans', sans-serif;color:#000;"><u><i>IGHV-U</i></u></div>
<div class="t s" style="left:318px;top:118.4px;font:bold 7.8px 'Liberation Sans', sans-serif;color:#000;"><u><i>IGHV-M</i></u></div>
<div class="t s" style="left:461px;top:118.4px;font:bold 7.8px 'Liberation Sans', sans-serif;color:#000;"><u>All</u></div>
<div class="t s" style="left:46.2px;top:133.3px;font:bold 5.6px 'Liberation Sans', sans-serif;color:#000;"><i>NOTCH1</i><sup>mut</sup></div>
<div class="t s" style="left:108px;top:145.2px;font:bold 5.6px 'Liberation Sans', sans-serif;color:#000;">13q-</div>
<div class="t s" style="left:2.6px;top:155.2px;font:bold 5.6px 'Liberation Sans', sans-serif;color:#000;"><i>SF3B1</i><sup>mut</sup></div>
<div class="t s" style="left:1.0px;top:189.2px;font:bold 5.6px 'Liberation Sans', sans-serif;color:#000;"><i>TP53</i><sup>mut</sup></div>
<div class="t s" style="left:24.8px;top:218.4px;font:bold 5.6px 'Liberation Sans', sans-serif;color:#000;">17p-</div>
<div class="t s" style="left:107.5px;top:214.2px;font:bold 5.6px 'Liberation Sans', sans-serif;color:#000;">+12</div>
<div class="t s" style="left:73.2px;top:229.9px;font:bold 5.6px 'Liberation Sans', sans-serif;color:#000;">11q-</div>
<div class="t s" style="left:173px;top:134.2px;font:bold 5.6px 'Liberation Sans', sans-serif;color:#000;"><i>NOTCH1</i><sup>mut</sup></div>
<div class="t s" style="left:241.2px;top:148.4px;font:bold 5.6px 'Liberation Sans', sans-serif;color:#000;">13q-</div>
<div class="t s" style="left:135px;top:156.7px;font:bold 5.6px 'Liberation Sans', sans-serif;color:#000;"><i>SF3B1</i><sup>mut</sup></div>
<div class="t s" style="left:133.7px;top:198px;font:bold 5.6px 'Liberation Sans', sans-serif;color:#000;"><i>TP53</i><sup>mut</sup></div>
<div class="t s" style="left:167px;top:222.2px;font:bold 5.6px 'Liberation Sans', sans-serif;color:#000;">17p-</div>
<div class="t s" style="left:251.5px;top:198px;font:bold 5.6px 'Liberation Sans', sans-serif;color:#000;">+12</div>
<div class="t s" style="left:225px;top:225.5px;font:bold 5.6px 'Liberation Sans', sans-serif;color:#000;">11q-</div>
<div class="t s" style="left:316px;top:132.4px;font:bold 5.6px 'Liberation Sans', sans-serif;color:#000;"><i>NOTCH1</i><sup>mut</sup></div>
<div class="t s" style="left:381.3px;top:165.6px;font:bold 5.6px 'Liberation Sans', sans-serif;color:#000;">13q-</div>
<div class="t s" style="left:279px;top:146.5px;font:bold 5.6px 'Liberation Sans', sans-serif;color:#000;"><i>SF3B1</i><sup>mut</sup></div>
<div class="t s" style="left:264.8px;top:174px;font:bold 5.6px 'Liberation Sans', sans-serif;color:#000;"><i>TP53</i><sup>mut</sup></div>
<div class="t s" style="left:278.3px;top:199px;font:bold 5.6px 'Liberation Sans', sans-serif;color:#000;">17p-</div>
<div class="t s" style="left:290.4px;top:218.4px;font:bold 5.6px 'Liberation Sans', sans-serif;color:#000;">11q-</div>
<div class="t s" style="left:329.4px;top:230.6px;font:bold 5.6px 'Liberation Sans', sans-serif;color:#000;">+12</div>
<div class="t s" style="left:433.5px;top:134.4px;font:bold 5.6px 'Liberation Sans', sans-serif;color:#000;"><i>NOTCH1</i><sup>mut</sup></div>
<div class="t s" style="left:496px;top:141.7px;font:bold 5.6px 'Liberation Sans', sans-serif;color:#000;"><i>IGHV-M</i></div>
<div class="t s" style="left:405px;top:153.7px;font:bold 5.6px 'Liberation Sans', sans-serif;color:#000;"><i>SF3B1</i><sup>mut</sup></div>
<div class="t s" style="left:402px;top:197.7px;font:bold 5.6px 'Liberation Sans', sans-serif;color:#000;"><i>TP53</i><sup>mut</sup></div>
<div class="t s" style="left:476.2px;top:229.6px;font:bold 5.6px 'Liberation Sans', sans-serif;color:#000;"><i>IGHV-U</i></div>
<div class="t s" style="left:33.7px;top:246.8px;font:bold 7.5px 'Liberation Sans', sans-serif;color:#000;"><u>All</u></div>
<div class="t s" style="left:91.2px;top:246.8px;font:bold 7.5px 'Liberation Sans', sans-serif;color:#000;"><u><i>IGHV</i>-U</u></div>
<div class="t s" style="left:157px;top:246.8px;font:bold 7.5px 'Liberation Sans', sans-serif;color:#000;"><u><i>IGHV</i>-M</u></div>
<div class="t s" style="left:220px;top:246.8px;font:bold 7.5px 'Liberation Sans', sans-serif;color:#000;"><u>normal</u></div>
<div class="t s" style="left:290.5px;top:246.8px;font:bold 7.5px 'Liberation Sans', sans-serif;color:#000;"><u>13q-</u></div>
<div class="t s" style="left:353px;top:246.8px;font:bold 7.5px 'Liberation Sans', sans-serif;color:#000;"><u>+12</u></div>
<div class="t s" style="left:417px;top:246.8px;font:bold 7.5px 'Liberation Sans', sans-serif;color:#000;"><u>11q-</u></div>
<div class="t s" style="left:485.8px;top:246.8px;font:bold 7.5px 'Liberation Sans', sans-serif;color:#000;"><u>17p-</u></div>
<div class="t s" style="left:21.3px;top:321.0px;font:bold italic 8.9px 'Liberation Sans', sans-serif;color:#a0a0a0;">No mutation,</div>
<div class="t s" style="left:86.3px;top:321.0px;font:bold italic 8.9px 'Liberation Sans', sans-serif;color:#fb6a0c;">SF3B1<span style="color:#111">,</span></div>
<div class="t s" style="left:123.8px;top:321.0px;font:bold italic 8.9px 'Liberation Sans', sans-serif;color:#cc0a4f;">NOTCH1<span style="color:#111">,</span></div>
<div class="t s" style="left:170px;top:321.0px;font:bold italic 8.9px 'Liberation Sans', sans-serif;color:#f8c81e;">TP53<span style="color:#111">,</span></div>
<div class="t s" style="left:201.3px;top:321.0px;font:bold italic 8.9px 'Liberation Sans', sans-serif;color:#1f497d;">SF3B1/TP53<span style="color:#111">,</span></div>
<div class="t s" style="left:265px;top:321.0px;font:bold italic 8.9px 'Liberation Sans', sans-serif;color:#1f86d8;">NOTCH1/TP53<span style="color:#111">,</span></div>
<div class="t s" style="left:336.3px;top:321.0px;font:bold italic 8.9px 'Liberation Sans', sans-serif;color:#33e2e6;">NOTCH1/SF3B1<span style="color:#111">,</span></div>
<div class="t s" style="left:417px;top:321.0px;font:bold italic 8.9px 'Liberation Sans', sans-serif;color:#8ccf4f;">NOTCH1/SF3B1/TP53</div>
</body></html>
